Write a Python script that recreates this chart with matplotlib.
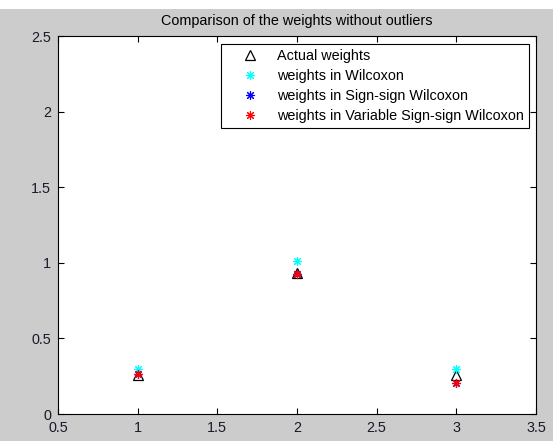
import matplotlib
matplotlib.use("Agg")
import matplotlib.pyplot as plt
from matplotlib.patches import Rectangle

x = [1, 2, 3]
actual = [0.26, 0.935, 0.255]
wilcoxon = [0.30, 1.014, 0.296]
sign_sign = [0.265, 0.928, 0.207]
var_sign_sign = [0.265, 0.928, 0.207]
xticks = [0.5, 1, 1.5, 2, 2.5, 3, 3.5]
xticklabels = ["0.5", "1", "1.5", "2", "2.5", "3", "3.5"]
yticks = [0, 0.5, 1, 1.5, 2, 2.5]
yticklabels = ["0", "0.5", "1", "1.5", "2", "2.5"]
labels = ["Actual weights", "weights in Wilcoxon", "weights in Sign-sign Wilcoxon",
          "weights in Variable Sign-sign Wilcoxon"]

plt.rcParams['font.family'] = ['Liberation Sans', 'DejaVu Sans']
fs = 10.4

fig = plt.figure(figsize=(5.55, 4.41), dpi=100, facecolor='white')
fig.patches.append(Rectangle((0, 0), 553/555, (441-9)/441, transform=fig.transFigure,
                             facecolor='#cccccc', edgecolor='none', zorder=-10))
ax = fig.add_axes([58/555, (441-414)/441, (536-58)/555, (414-36)/441])
ax.set_facecolor('white')

star = (8, 2, 0)
ax.plot(x, actual, linestyle='none', marker='^', markersize=7, markerfacecolor='none',
        markeredgecolor='black', markeredgewidth=0.9, label=labels[0])
ax.plot(x, wilcoxon, linestyle='none', marker=star, markersize=6.5, color='cyan',
        markeredgewidth=0.8, label=labels[1])
ax.plot(x, sign_sign, linestyle='none', marker=star, markersize=6.5, color='blue',
        markeredgewidth=0.8, label=labels[2])
ax.plot(x, var_sign_sign, linestyle='none', marker=star, markersize=6.5, color='red',
        markeredgewidth=0.8, label=labels[3])

ax.set_xlim(0.5, 3.5)
ax.set_ylim(0, 2.5)
ax.set_xticks(xticks)
ax.set_xticklabels(xticklabels, fontsize=fs)
ax.set_yticks(yticks)
ax.set_yticklabels(yticklabels, fontsize=fs)
ax.tick_params(direction='in', length=4, width=0.8, top=True, right=True, colors='black',
               labelcolor='#1a1a2a')
ax.tick_params(axis='x', pad=5)
ax.tick_params(axis='y', pad=5)
for s in ax.spines.values():
    s.set_linewidth(0.8)
ax.set_title("Comparison of the weights without outliers", fontsize=fs, pad=8)

leg = ax.legend(loc='upper right', bbox_to_anchor=(529/555, (441-44)/441),
                bbox_transform=fig.transFigure, fontsize=fs, fancybox=False,
                edgecolor='black', framealpha=1, borderaxespad=0, handlelength=3.4,
                handletextpad=0.15, labelspacing=0.42, borderpad=0.35)
leg.get_frame().set_linewidth(0.8)

fig.savefig("out.png", dpi=100, facecolor=fig.get_facecolor())
